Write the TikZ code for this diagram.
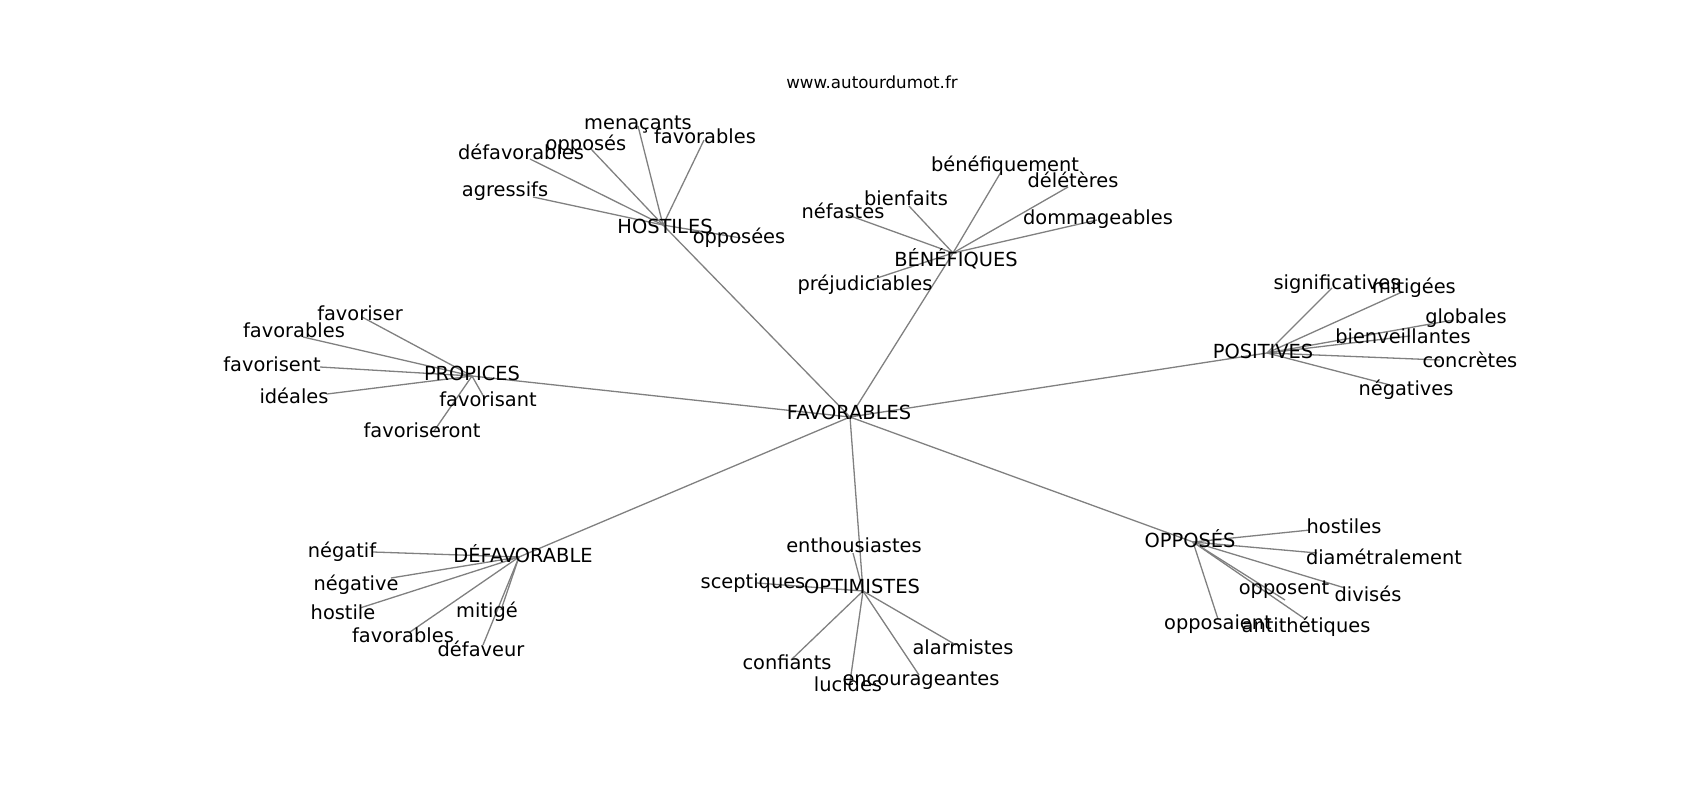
\documentclass[tikz,border=0pt]{standalone}
\usepackage{fontspec}
\setmainfont{DejaVu Sans}
\begin{document}
\begin{tikzpicture}[x=1pt,y=-1pt,
  lab/.style={font=\fontsize{19.4}{23}\selectfont, inner sep=0pt, text height=14.7pt, text depth=4.7pt, anchor=center, yshift=-1.7pt},
  labacc/.style={lab, text height=18pt},
  edge/.style={draw=black!50, line width=1.3pt}]
\useasboundingbox (0,0) rectangle (1700,800);
\node[font=\fontsize{16.67}{20}\selectfont, inner sep=0pt, text height=12.7pt, text depth=4pt, yshift=-1pt] (title) at (872,83) {www.autourdumot.fr};
% ---- graph points (where the connectors meet)
\coordinate (fav) at (850,417);
\coordinate (host) at (663,225);
\coordinate (bene) at (953,253);
\coordinate (posi) at (1267,353);
\coordinate (prop) at (472,376);
\coordinate (defa) at (519,557);
\coordinate (opti) at (863,591);
\coordinate (oppo) at (1193,542);
\coordinate (h1) at (638,126);
\coordinate (h2) at (591,149);
\coordinate (h3) at (704,140);
\coordinate (h4) at (530,159);
\coordinate (h5) at (533,197);
\coordinate (h6) at (741,238);
\coordinate (b1) at (1001,172);
\coordinate (b2) at (1068,187);
\coordinate (b3) at (909,206);
\coordinate (b4) at (848,215);
\coordinate (b5) at (1097,220);
\coordinate (b6) at (868,281);
\coordinate (p1) at (1332,288);
\coordinate (p2) at (1402,292);
\coordinate (p3) at (1453,320);
\coordinate (p4) at (1410,336);
\coordinate (p5) at (1440,360);
\coordinate (p6) at (1390,385);
\coordinate (r1) at (362,317);
\coordinate (r2) at (303,337);
\coordinate (r3) at (320,367);
\coordinate (r4) at (327,394);
\coordinate (r5) at (485,399);
\coordinate (r6) at (434,431);
\coordinate (d1) at (373,552);
\coordinate (d2) at (391,578);
\coordinate (d3) at (360,608);
\coordinate (d4) at (410,632);
\coordinate (d5) at (501,610);
\coordinate (d6) at (483,645);
\coordinate (o1) at (853,553);
\coordinate (o2) at (757,583);
\coordinate (o3) at (791,660);
\coordinate (o4) at (850,682);
\coordinate (o5) at (919,675);
\coordinate (o6) at (956,645);
\coordinate (s1) at (1310,530);
\coordinate (s2) at (1317,553);
\coordinate (s3) at (1285,600);
\coordinate (s4) at (1345,588);
\coordinate (s5) at (1218,619);
\coordinate (s6) at (1305,619);
% ---- connectors
\foreach \h in {host,bene,posi,prop,defa,opti,oppo}
  \draw[edge] (fav) -- (\h);
\foreach \l in {h1,h2,h3,h4,h5,h6} \draw[edge] (host) -- (\l);
\foreach \l in {b1,b2,b3,b4,b5,b6} \draw[edge] (bene) -- (\l);
\foreach \l in {p1,p2,p3,p4,p5,p6} \draw[edge] (posi) -- (\l);
\foreach \l in {r1,r2,r3,r4,r5,r6} \draw[edge] (prop) -- (\l);
\foreach \l in {d1,d2,d3,d4,d5,d6} \draw[edge] (defa) -- (\l);
\foreach \l in {o1,o2,o3,o4,o5,o6} \draw[edge] (opti) -- (\l);
\foreach \l in {s1,s2,s3,s4,s5,s6} \draw[edge] (oppo) -- (\l);
% ---- labels
\node[lab] (lfav) at (849,413) {FAVORABLES};
\node[lab] (lhost) at (665,227) {HOSTILES};
\node[labacc] (lbene) at (956,258) {BÉNÉFIQUES};
\node[lab] (lposi) at (1263,352) {POSITIVES};
\node[lab] (lprop) at (472,374) {PROPICES};
\node[labacc] (ldefa) at (523,554) {DÉFAVORABLE};
\node[lab] (lopti) at (862,587) {OPTIMISTES};
\node[labacc] (loppo) at (1190,539) {OPPOSÉS};
\node[lab] (lh1) at (638,123) {menaçants};
\node[lab] (lh2) at (586,144) {opposés};
\node[lab] (lh3) at (705,137) {favorables};
\node[lab] (lh4) at (521,153) {défavorables};
\node[lab] (lh5) at (505,190) {agressifs};
\node[lab] (lh6) at (739,237) {opposées};
\node[lab] (lb1) at (1005,165) {bénéfiquement};
\node[lab] (lb2) at (1073,181) {délétères};
\node[lab] (lb3) at (906,199) {bienfaits};
\node[lab] (lb4) at (843,212) {néfastes};
\node[lab] (lb5) at (1098,218) {dommageables};
\node[lab] (lb6) at (865,284) {préjudiciables};
\node[lab] (lp1) at (1337,283) {significatives};
\node[lab] (lp2) at (1414,287) {mitigées};
\node[lab] (lp3) at (1466,317) {globales};
\node[lab] (lp4) at (1403,337) {bienveillantes};
\node[lab] (lp5) at (1470,361) {concrètes};
\node[lab] (lp6) at (1406,389) {négatives};
\node[lab] (lr1) at (360,314) {favoriser};
\node[lab] (lr2) at (294,331) {favorables};
\node[lab] (lr3) at (272,365) {favorisent};
\node[lab] (lr4) at (294,397) {idéales};
\node[lab] (lr5) at (488,400) {favorisant};
\node[lab] (lr6) at (422,431) {favoriseront};
\node[lab] (ld1) at (342,551) {négatif};
\node[lab] (ld2) at (356,584) {négative};
\node[lab] (ld3) at (343,613) {hostile};
\node[lab] (ld4) at (403,636) {favorables};
\node[lab] (ld5) at (487,611) {mitigé};
\node[lab] (ld6) at (481,650) {défaveur};
\node[lab] (lo1) at (854,546) {enthousiastes};
\node[lab] (lo2) at (753,582) {sceptiques};
\node[lab] (lo3) at (787,663) {confiants};
\node[lab] (lo4) at (848,685) {lucides};
\node[lab] (lo5) at (921,679) {encourageantes};
\node[lab] (lo6) at (963,648) {alarmistes};
\node[lab] (ls1) at (1344,527) {hostiles};
\node[lab] (ls2) at (1384,558) {diamétralement};
\node[lab] (ls3) at (1284,588) {opposent};
\node[lab] (ls4) at (1368,595) {divisés};
\node[lab] (ls5) at (1218,623) {opposaient};
\node[lab] (ls6) at (1306,626) {antithétiques};
\end{tikzpicture}
\end{document}
